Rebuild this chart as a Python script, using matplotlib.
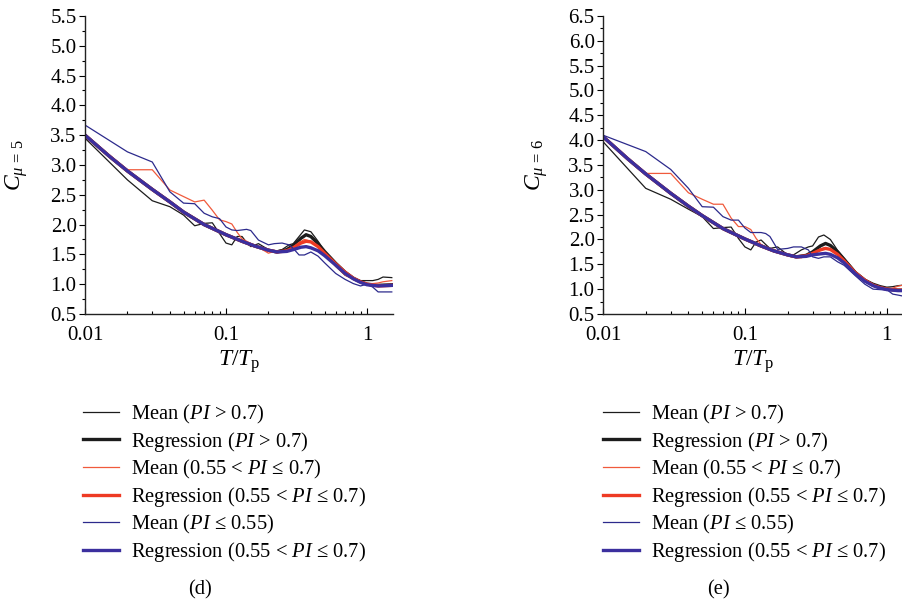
import matplotlib
matplotlib.use("Agg")
import matplotlib.pyplot as plt
from matplotlib.ticker import MultipleLocator, FixedLocator, FixedFormatter, LogLocator, NullFormatter

plt.rcParams['font.family'] = ['Liberation Serif', 'DejaVu Serif']
plt.rcParams['mathtext.fontset'] = 'custom'
plt.rcParams['mathtext.rm'] = 'Liberation Serif'
plt.rcParams['mathtext.it'] = 'Liberation Serif:italic'
plt.rcParams['mathtext.bf'] = 'Liberation Serif:bold'

# periods T/Tp of the mean curves
x_mean = [0.01, 0.02, 0.03, 0.04, 0.05, 0.06, 0.07, 0.08, 0.09, 0.1,
          0.11, 0.12, 0.13, 0.14, 0.15, 0.17, 0.2, 0.22, 0.25, 0.28,
          0.3, 0.33, 0.36, 0.4, 0.45, 0.5, 0.6, 0.7, 0.8, 0.9,
          1.0, 1.1, 1.2, 1.3, 1.5]
# periods of the regression curves
x_reg = [0.01, 0.015, 0.02, 0.03, 0.04, 0.05, 0.07, 0.1, 0.13, 0.16,
         0.2, 0.23, 0.27, 0.3, 0.34, 0.37, 0.4, 0.45, 0.5, 0.6,
         0.7, 0.8, 0.9, 1.0, 1.2, 1.5]

# panel (d): C_mu=5
d_mean_high = [3.45, 2.75, 2.40, 2.30, 2.16, 1.98, 2.02, 2.03, 1.85, 1.69,
               1.66, 1.80, 1.80, 1.70, 1.63, 1.68, 1.58, 1.55, 1.58, 1.66,
               1.68, 1.80, 1.91, 1.88, 1.72, 1.55, 1.30, 1.15, 1.09, 1.06,
               1.06, 1.06, 1.08, 1.12, 1.11]
d_mean_mid = [3.50, 2.92, 2.92, 2.58, 2.47, 2.38, 2.41, 2.24, 2.08, 2.05,
              2.01, 1.87, 1.76, 1.72, 1.68, 1.62, 1.52, 1.55, 1.55, 1.58,
              1.62, 1.70, 1.75, 1.72, 1.62, 1.49, 1.30, 1.15, 1.08, 1.03,
              1.01, 1.01, 1.02, 1.04, 1.06]
d_mean_low = [3.67, 3.22, 3.05, 2.55, 2.36, 2.35, 2.19, 2.13, 2.10, 1.96,
              1.91, 1.90, 1.91, 1.92, 1.90, 1.74, 1.66, 1.68, 1.69, 1.66,
              1.60, 1.49, 1.49, 1.54, 1.47, 1.36, 1.18, 1.08, 1.01, 0.97,
              1.00, 0.95, 0.87, 0.87, 0.87]
d_reg_high = [3.50, 3.14, 2.90, 2.59, 2.38, 2.21, 2.00, 1.83, 1.72, 1.64,
              1.57, 1.54, 1.58, 1.65, 1.77, 1.83, 1.80, 1.68, 1.55, 1.35,
              1.20, 1.10, 1.04, 1.00, 0.98, 0.99]
d_reg_mid = [3.50, 3.14, 2.90, 2.59, 2.38, 2.21, 2.00, 1.83, 1.72, 1.64,
             1.57, 1.54, 1.56, 1.61, 1.69, 1.72, 1.71, 1.63, 1.52, 1.34,
             1.20, 1.10, 1.04, 1.00, 0.97, 0.98]
d_reg_low = [3.50, 3.14, 2.90, 2.59, 2.38, 2.21, 2.00, 1.83, 1.72, 1.64,
             1.57, 1.54, 1.55, 1.58, 1.62, 1.63, 1.61, 1.56, 1.48, 1.32,
             1.18, 1.09, 1.03, 0.99, 0.97, 0.98]

# panel (e): C_mu=6
e_mean_high = [3.97, 3.03, 2.81, 2.61, 2.46, 2.22, 2.24, 2.25, 2.02, 1.85,
               1.79, 1.95, 1.99, 1.90, 1.82, 1.85, 1.69, 1.69, 1.79, 1.85,
               1.87, 2.05, 2.09, 2.00, 1.78, 1.62, 1.36, 1.20, 1.12, 1.07,
               1.04, 1.05, 1.07, 1.08, 1.08]
e_mean_mid = [4.05, 3.33, 3.33, 2.94, 2.81, 2.71, 2.71, 2.43, 2.26, 2.26,
              2.20, 2.02, 1.90, 1.85, 1.82, 1.76, 1.68, 1.64, 1.63, 1.69,
              1.72, 1.79, 1.83, 1.80, 1.70, 1.57, 1.35, 1.18, 1.08, 1.02,
              0.99, 1.02, 1.06, 1.08, 1.08]
e_mean_low = [4.10, 3.77, 3.41, 3.03, 2.66, 2.65, 2.46, 2.39, 2.39, 2.23,
              2.14, 2.14, 2.14, 2.12, 2.06, 1.80, 1.82, 1.85, 1.85, 1.79,
              1.65, 1.62, 1.65, 1.65, 1.55, 1.48, 1.27, 1.10, 1.00, 0.99,
              0.99, 0.90, 0.88, 0.86, 0.86]
e_reg_high = [4.07, 3.62, 3.32, 2.93, 2.67, 2.48, 2.22, 2.01, 1.87, 1.77,
              1.69, 1.65, 1.68, 1.75, 1.87, 1.92, 1.88, 1.75, 1.60, 1.33,
              1.18, 1.08, 1.03, 1.00, 0.98, 0.98]
e_reg_mid = [4.07, 3.62, 3.32, 2.93, 2.67, 2.48, 2.22, 2.01, 1.87, 1.77,
             1.69, 1.65, 1.67, 1.72, 1.79, 1.82, 1.80, 1.70, 1.57, 1.33,
             1.18, 1.08, 1.03, 1.00, 0.98, 0.98]
e_reg_low = [4.07, 3.62, 3.32, 2.93, 2.67, 2.48, 2.22, 2.01, 1.87, 1.77,
             1.69, 1.65, 1.66, 1.69, 1.71, 1.72, 1.70, 1.63, 1.53, 1.31,
             1.16, 1.07, 1.02, 0.99, 0.97, 0.97]

labels = [r"Mean ($PI$ > 0.7)",
          r"Regression ($PI$ > 0.7)",
          r"Mean (0.55 < $PI$ ≤ 0.7)",
          r"Regression (0.55 < $PI$ ≤ 0.7)",
          r"Mean ($PI$ ≤ 0.55)",
          r"Regression (0.55 < $PI$ ≤ 0.7)"]

black = '#1c1c1c'
red = '#ee3a24'
red_thin = '#f05a3c'
blue = '#2c2a8c'
blue_thick = '#3b2f9e'

fig = plt.figure(figsize=(9.03, 6.08), dpi=100)

panels = [
    dict(rect=[85/903, 0.4836, 308/903, 0.4901], xmax=1.53, ymax=5.5, mu=5,
         mean=[d_mean_high, d_mean_mid, d_mean_low], reg=[d_reg_high, d_reg_mid, d_reg_low],
         leg_x=83/903, cap_x=200/903, cap='(d)', ylab_x=-0.18),
    dict(rect=[603/903, 0.4836, 300/903, 0.4901], xmax=1.30, ymax=6.5, mu=6,
         mean=[e_mean_high, e_mean_mid, e_mean_low], reg=[e_reg_high, e_reg_mid, e_reg_low],
         leg_x=603/903, cap_x=718/903, cap='(e)', ylab_x=-0.175),
]

for p in panels:
    ax = fig.add_axes(p['rect'])
    handles = []
    for m, r, cm, cr in zip(p['mean'], p['reg'], [black, red_thin, blue], [black, red, blue_thick]):
        h1, = ax.plot(x_mean, m, color=cm, lw=0.9)
        h2, = ax.plot(x_reg, r, color=cr, lw=2.4, solid_joinstyle='round')
        handles += [h1, h2]
    ax.set_xscale('log')
    ax.set_xlim(0.01, p['xmax'])
    ax.set_ylim(0.5, p['ymax'])
    ax.xaxis.set_major_locator(FixedLocator([0.01, 0.1, 1]))
    ax.xaxis.set_major_formatter(FixedFormatter(['0.01', '0.1', '1']))
    ax.xaxis.set_minor_locator(LogLocator(base=10, subs=range(2, 10)))
    ax.xaxis.set_minor_formatter(NullFormatter())
    ax.yaxis.set_major_locator(MultipleLocator(0.5))
    ax.yaxis.set_minor_locator(MultipleLocator(0.25))
    ax.yaxis.set_major_formatter(plt.FormatStrFormatter('%.1f'))
    for s in ['top', 'right']:
        ax.spines[s].set_visible(False)
    for s in ['left', 'bottom']:
        ax.spines[s].set_linewidth(1.0)
        ax.spines[s].set_color('#222222')
    ax.tick_params(axis='y', which='major', direction='out', length=4, width=0.8, labelsize=15, pad=2)
    ax.tick_params(axis='y', which='minor', direction='out', length=2.5, width=0.8)
    ax.tick_params(axis='x', which='major', direction='in', length=4, width=0.8, labelsize=15, pad=9)
    ax.tick_params(axis='x', which='minor', direction='in', length=2.5, width=0.8)
    ax.set_ylabel(r"$C_{\mu\,=\,%d}$" % p['mu'], fontsize=17)
    ax.yaxis.set_label_coords(p['ylab_x'], 0.5)
    ax.set_xlabel(r"$T/T_\mathrm{p}$", fontsize=17)
    ax.xaxis.set_label_coords(0.5, -0.115)

    fig.legend(handles, labels, loc='upper left', bbox_to_anchor=(p['leg_x'], 0.338),
               frameon=False, fontsize=14.8, handlelength=1.75, handletextpad=0.58,
               labelspacing=0.2, borderpad=0, borderaxespad=0)
    fig.text(p['cap_x'], 1 - 590/608, p['cap'], ha='center', va='center', fontsize=14.8)

fig.savefig('out.png', dpi=100)
